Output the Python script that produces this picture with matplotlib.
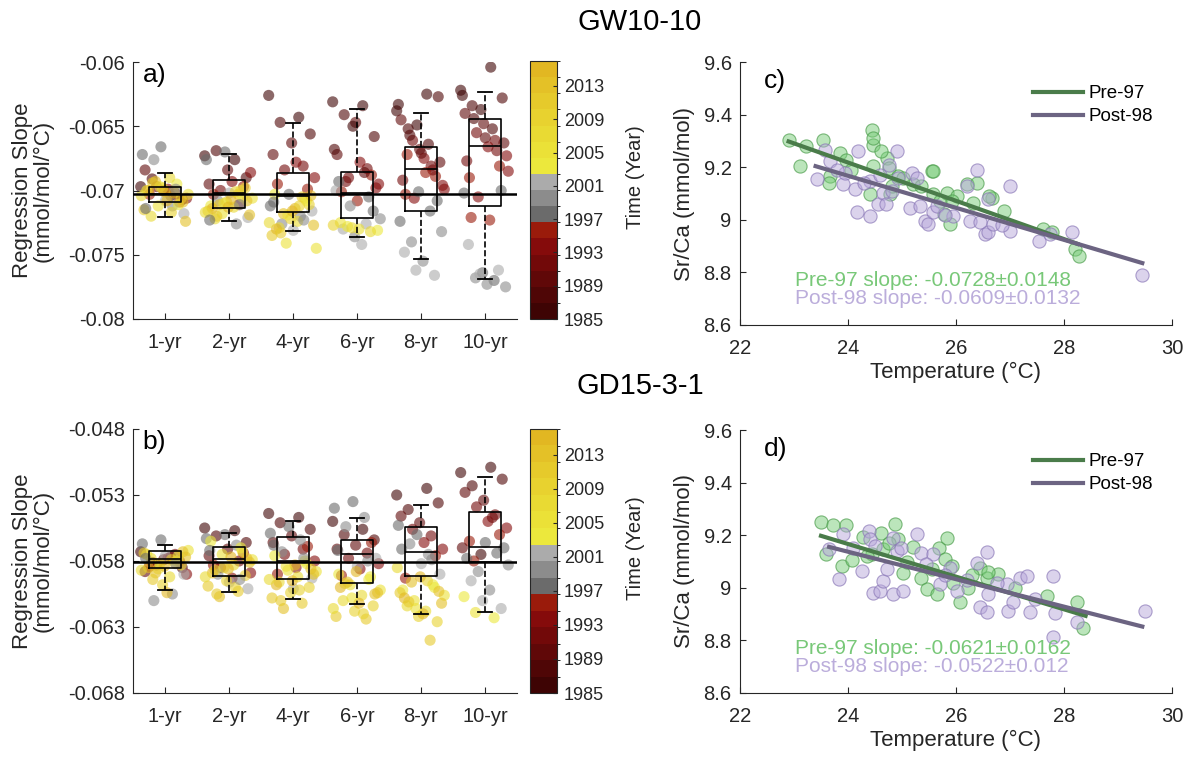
import numpy as np
import matplotlib
matplotlib.use("Agg")
import matplotlib.pyplot as plt
from matplotlib.colors import ListedColormap, BoundaryNorm
from matplotlib.cm import ScalarMappable

plt.rcParams['font.family'] = ['Liberation Sans', 'DejaVu Sans']

# ---------------- data ----------------
windows = ['1-yr', '2-yr', '4-yr', '6-yr', '8-yr', '10-yr']

# year of each window (colour)
YEARS_LONG = [1985, 1986, 1987, 1988, 1989, 1990, 1991, 1992, 1993, 1994, 1995, 1996,
              1997, 1998, 1999, 2000, 2001, 2002,
              2003, 2004, 2005, 2006, 2007, 2008, 2009, 2010, 2011, 2012, 2013, 2014, 2015, 2016,
              2003, 2005, 2007, 2009, 2011, 2013, 2015, 1998, 2000]
YEARS_6YR = [1985, 1986, 1987, 1988, 1989, 1990, 1991, 1992, 1993, 1994, 1995, 1996,
             1985.5, 1987.5, 1989.5, 1991.5, 1993.5, 1995.5,
             1997, 1998, 1999, 2000, 2001, 2002, 1997.5, 1999.5, 2001.5, 2002.3,
             2003, 2004, 2005, 2006, 2007, 2008, 2009]
YEARS_8YR = [1985, 1986, 1987, 1988, 1989, 1990, 1991, 1992, 1993, 1994, 1995, 1996,
             1985.5, 1986.5, 1987.5, 1988.5, 1989.5, 1990.5, 1991.5, 1992.5, 1993.5, 1994.5, 1995.5, 1996.5,
             1997, 1997.5, 1998, 1998.5, 1999, 1999.5, 2000, 2000.5, 2001, 2001.5]
YEARS_B10 = [1985, 1986, 1987, 1988, 1989, 1990, 1991, 1992, 1993, 1994, 1995, 1996,
             1986.5, 1989.5, 1992.5, 1995.5,
             1997, 1997.5, 1998, 1998.5, 1999, 1999.5, 2000, 2000.5, 2001, 2001.5,
             2003, 2004, 2005]

# GW10-10 regression slopes per window length
a_1yr = [-0.0697, -0.0704, -0.0691, -0.0707, -0.0700, -0.0684, -0.0702, -0.0697, -0.0706, -0.0699, -0.0703, -0.0709,
         -0.0666, -0.0672, -0.0712, -0.0676, -0.0718, -0.0708,
         -0.0700, -0.0695, -0.0712, -0.0703, -0.0690, -0.0720, -0.0706, -0.0698, -0.0715, -0.0702, -0.0693, -0.0724, -0.0708, -0.0700,
         -0.0711, -0.0697, -0.0704, -0.0717, -0.0694, -0.0709, -0.0701, -0.0714, -0.0699]
a_2yr = [-0.0673, -0.0676, -0.0669, -0.0690, -0.0684, -0.0695, -0.0711, -0.0700, -0.0686, -0.0693, -0.0703, -0.0697,
         -0.0670, -0.0676, -0.0726, -0.0708, -0.0721, -0.0702,
         -0.0712, -0.0700, -0.0718, -0.0706, -0.0713, -0.0722, -0.0698, -0.0709, -0.0716, -0.0703, -0.0711, -0.0719, -0.0707, -0.0714,
         -0.0705, -0.0710, -0.0717, -0.0701, -0.0720, -0.0708, -0.0713, -0.0723, -0.0711]
a_4yr = [-0.0626, -0.0643, -0.0647, -0.0656, -0.0663, -0.0672, -0.0681, -0.0684, -0.0690, -0.0678, -0.0695, -0.0699,
         -0.0703, -0.0712, -0.0720, -0.0726, -0.0716, -0.0731,
         -0.0703, -0.0706, -0.0741, -0.0745, -0.0724, -0.0729, -0.0711, -0.0722, -0.0735, -0.0705, -0.0718, -0.0727, -0.0714, -0.0730,
         -0.0708, -0.0719, -0.0725, -0.0712, -0.0733, -0.0704, -0.0716, -0.0709, -0.0723]
a_6yr = [-0.0631, -0.0634, -0.0641, -0.0658, -0.0647, -0.0672, -0.0683, -0.0690, -0.0695, -0.0678, -0.0701, -0.0688,
         -0.0650, -0.0668, -0.0686, -0.0693, -0.0698, -0.0708,
         -0.0693, -0.0705, -0.0712, -0.0722, -0.0742, -0.0730, -0.0716, -0.0736, -0.0700, -0.0726,
         -0.0728, -0.0731, -0.0730, -0.0725, -0.0732, -0.0729, -0.0727]
a_8yr = [-0.0638, -0.0625, -0.0652, -0.0627, -0.0668, -0.0645, -0.0681, -0.0661, -0.0696, -0.0675, -0.0703, -0.0689,
         -0.0649, -0.0633, -0.0664, -0.0657, -0.0678, -0.0671, -0.0692, -0.0684, -0.0706, -0.0699, -0.0686, -0.0672,
         -0.0708, -0.0701, -0.0724, -0.0716, -0.0740, -0.0732, -0.0755, -0.0748, -0.0766, -0.0762]
a_10yr = [-0.0622, -0.0604, -0.0634, -0.0628, -0.0648, -0.0640, -0.0661, -0.0655, -0.0673, -0.0666, -0.0690, -0.0681,
          -0.0637, -0.0626, -0.0652, -0.0644, -0.0663, -0.0659, -0.0677, -0.0669, -0.0705, -0.0685, -0.0723, -0.0721,
          -0.0700, -0.0764, -0.0702, -0.0770, -0.0768, -0.0775, -0.0773, -0.0742, -0.0762, -0.0765]

# GD15-3-1 regression slopes per window length
b_1yr = [-0.0573, -0.0577, -0.0581, -0.0585, -0.0579, -0.0588, -0.0575, -0.0583, -0.0590, -0.0578, -0.0584, -0.0580,
         -0.0564, -0.0567, -0.0605, -0.0610, -0.0590, -0.0576,
         -0.0575, -0.0580, -0.0586, -0.0572, -0.0592, -0.0578, -0.0583, -0.0598, -0.0574, -0.0581, -0.0589, -0.0577, -0.0604, -0.0585,
         -0.0576, -0.0582, -0.0587, -0.0579, -0.0594, -0.0573, -0.0584, -0.0578, -0.0582]
b_2yr = [-0.0555, -0.0557, -0.0561, -0.0566, -0.0571, -0.0576, -0.0580, -0.0585, -0.0589, -0.0593, -0.0583, -0.0574,
         -0.0560, -0.0563, -0.0568, -0.0590, -0.0601, -0.0596,
         -0.0565, -0.0570, -0.0575, -0.0579, -0.0583, -0.0587, -0.0591, -0.0595, -0.0599, -0.0603, -0.0607, -0.0581, -0.0577, -0.0589,
         -0.0573, -0.0585, -0.0592, -0.0600, -0.0605, -0.0578, -0.0586, -0.0572, -0.0594]
b_4yr = [-0.0544, -0.0547, -0.0551, -0.0556, -0.0561, -0.0566, -0.0571, -0.0575, -0.0580, -0.0585, -0.0590, -0.0569,
         -0.0554, -0.0559, -0.0564, -0.0573, -0.0593, -0.0601,
         -0.0576, -0.0580, -0.0584, -0.0588, -0.0592, -0.0596, -0.0600, -0.0604, -0.0608, -0.0612, -0.0616, -0.0590, -0.0583, -0.0598,
         -0.0582, -0.0587, -0.0594, -0.0602, -0.0610, -0.0586, -0.0595, -0.0568, -0.0578]
b_6yr = [-0.0550, -0.0556, -0.0560, -0.0564, -0.0568, -0.0571, -0.0574, -0.0578, -0.0582, -0.0586, -0.0591, -0.0566,
         -0.0535, -0.0540, -0.0547, -0.0554, -0.0578, -0.0584,
         -0.0590, -0.0594, -0.0598, -0.0602, -0.0606, -0.0610, -0.0614, -0.0618, -0.0622, -0.0624, -0.0596, -0.0604, -0.0612, -0.0600,
         -0.0592, -0.0608, -0.0616, -0.0620, -0.0597, -0.0605, -0.0588, -0.0572, -0.0580]
b_8yr = [-0.0530, -0.0525, -0.0541, -0.0536, -0.0551, -0.0546, -0.0561, -0.0556, -0.0571, -0.0566, -0.0593, -0.0576,
         -0.0560, -0.0553, -0.0575, -0.0567, -0.0590, -0.0582,
         -0.0602, -0.0598, -0.0610, -0.0606, -0.0618, -0.0614, -0.0626, -0.0622, -0.0604, -0.0640, -0.0596, -0.0612, -0.0620, -0.0608,
         -0.0600, -0.0616, -0.0585, -0.0595, -0.0611, -0.0603, -0.0592, -0.0571, -0.0579]
b_10yr = [-0.0513, -0.0509, -0.0523, -0.0518, -0.0534, -0.0528, -0.0545, -0.0539, -0.0555, -0.0550, -0.0565, -0.0560,
          -0.0575, -0.0570, -0.0547, -0.0580,
          -0.0570, -0.0566, -0.0578, -0.0574, -0.0588, -0.0583, -0.0602, -0.0595, -0.0616, -0.0610,
          -0.0607, -0.0623, -0.0619]

a_years = [YEARS_LONG, YEARS_LONG, YEARS_LONG, YEARS_6YR, YEARS_8YR, YEARS_8YR]
b_years = [YEARS_LONG, YEARS_LONG, YEARS_LONG, YEARS_LONG, YEARS_LONG, YEARS_B10]

# box statistics
a_hi = [-0.06866, -0.06716, -0.06477, -0.06366, -0.06399, -0.06233]
a_q3 = [-0.06970, -0.06918, -0.06866, -0.06859, -0.06659, -0.06444]
a_med = [-0.07027, -0.07022, -0.07040, -0.07017, -0.06833, -0.06651]
a_q1 = [-0.07087, -0.07139, -0.07165, -0.07214, -0.07157, -0.07121]
a_lo = [-0.07204, -0.07237, -0.07313, -0.07359, -0.07535, -0.07691]
a_ref = -0.0703

b_hi = [-0.05677, -0.05586, -0.05497, -0.05477, -0.05378, -0.05166]
b_q3 = [-0.05724, -0.05694, -0.05616, -0.05643, -0.05540, -0.05429]
b_med = [-0.05785, -0.05785, -0.05798, -0.05747, -0.05734, -0.05694]
b_q1 = [-0.05851, -0.05914, -0.05939, -0.05969, -0.05914, -0.05805]
b_lo = [-0.06020, -0.06033, -0.06090, -0.06128, -0.06204, -0.06184]
b_ref = -0.0581

# Sr/Ca vs temperature
c_pre_t = [22.90, 23.11, 23.22, 23.54, 23.67, 23.65, 23.85, 23.96, 24.41, 24.44, 24.46, 24.47, 24.47, 24.72,
           24.75, 24.78, 24.81, 24.93, 25.21, 25.55, 25.58, 25.58, 25.70, 25.77, 25.83, 25.89, 26.01, 26.20,
           26.32, 26.38, 26.66, 26.88, 27.62, 27.77, 28.20, 28.27, 24.05, 24.62, 25.02, 25.36, 25.92, 26.62]
c_pre_sr = [9.305, 9.204, 9.279, 9.305, 9.166, 9.141, 9.254, 9.229, 9.097, 9.342, 9.283, 9.311, 9.204, 9.235,
            9.197, 9.097, 9.128, 9.166, 9.135, 9.185, 9.185, 9.097, 9.072, 9.021, 9.103, 8.984, 9.091, 9.135,
            9.065, 9.141, 9.084, 9.034, 8.965, 8.952, 8.889, 8.864, 9.190, 9.260, 9.160, 9.130, 9.070, 9.090]
c_post_t = [23.42, 23.57, 23.67, 23.91, 23.94, 24.13, 24.16, 24.19, 24.41, 24.41, 24.56, 24.59, 24.65, 24.75,
            24.81, 24.90, 24.93, 25.15, 25.18, 25.33, 25.43, 25.49, 25.58, 25.64, 25.95, 26.20, 26.26, 26.38,
            26.54, 26.60, 26.60, 26.69, 27.00, 27.00, 27.53, 27.74, 28.14, 29.44, 23.80, 24.30, 25.28, 25.80,
            26.45, 26.85, 24.70]
c_post_sr = [9.154, 9.267, 9.223, 9.135, 9.179, 9.116, 9.028, 9.260, 9.015, 9.147, 9.059, 9.172, 9.103, 9.210,
             9.109, 9.260, 9.160, 9.046, 9.179, 9.053, 8.996, 8.984, 9.028, 9.053, 9.015, 9.128, 8.996, 9.191,
             8.946, 8.952, 9.078, 8.984, 9.128, 8.958, 8.921, 8.946, 8.952, 8.789, 9.190, 9.140, 9.160, 9.020,
             8.990, 8.980, 9.060]
d_pre_t = [23.50, 23.73, 23.96, 23.59, 23.88, 24.07, 24.28, 24.44, 24.62, 24.65, 24.87, 24.93, 25.02, 25.21,
           25.36, 25.46, 25.64, 25.69, 25.83, 25.80, 25.92, 26.07, 26.23, 26.44, 26.57, 26.78, 27.09, 27.68,
           28.24, 28.36, 24.35, 24.75, 25.55, 25.95, 26.30, 25.10, 26.60]
d_pre_sr = [9.250, 9.238, 9.238, 9.129, 9.083, 9.104, 9.192, 9.127, 9.209, 9.146, 9.243, 9.184, 9.058, 9.155,
            9.039, 8.995, 8.976, 9.152, 9.188, 9.110, 9.083, 8.945, 9.001, 9.077, 9.039, 9.052, 9.001, 8.970,
            8.945, 8.848, 9.120, 9.170, 9.070, 9.020, 9.050, 9.100, 9.060]
d_post_t = [23.65, 23.84, 23.91, 24.25, 24.38, 24.41, 24.46, 24.59, 24.65, 24.72, 24.83, 24.84, 24.90, 24.99,
            25.02, 25.27, 25.36, 25.58, 25.70, 25.89, 26.01, 26.38, 26.44, 26.57, 26.58, 26.60, 26.94, 26.97,
            27.06, 27.19, 27.31, 27.37, 27.46, 27.79, 27.83, 27.79, 28.24, 29.50, 24.10, 24.50, 25.45, 25.80,
            26.20, 26.75]
d_post_sr = [9.146, 9.033, 9.203, 9.062, 9.215, 9.184, 8.982, 8.989, 9.026, 9.071, 9.190, 8.978, 9.140, 9.152,
             8.989, 9.205, 9.133, 9.127, 9.014, 9.077, 8.989, 9.096, 8.926, 8.907, 9.137, 8.976, 9.014, 8.913,
             8.945, 9.039, 9.045, 8.907, 8.957, 9.045, 8.903, 8.812, 8.869, 8.913, 9.150, 9.160, 9.090, 9.050,
             9.030, 9.020]

# fitted lines: slope, intercept, t-range
c_fit = {'pre': (-0.0728, 10.965, 22.9, 28.25), 'post': (-0.0609, 10.629, 23.4, 29.45)}
d_fit = {'pre': (-0.0621, 10.657, 23.5, 28.4), 'post': (-0.0522, 10.390, 23.65, 29.45)}
c_txt = ['Pre-97 slope: -0.0728\u00b10.0148', 'Post-98 slope: -0.0609\u00b10.0132']
d_txt = ['Pre-97 slope: -0.0621\u00b10.0162', 'Post-98 slope: -0.0522\u00b10.012']

# ---------------- styling ----------------
band_colors = ['#3e0404', '#4f0606', '#600808', '#720909', '#850b0b', '#9a1b0b',
               '#6b6b6b', '#8c8c8c', '#ababab',
               '#ece83c', '#ebe137', '#e9da33', '#e8d22f', '#e6ca2b', '#e4c127', '#e2b722']
cmap = ListedColormap(band_colors)
norm = BoundaryNorm(np.linspace(1985, 2016, 17), cmap.N)

AX_C = '#262626'
TICK_FS = 14.5
LAB_FS = 16
W, H = 1187, 759
fig = plt.figure(figsize=(W / 100, H / 100), dpi=100)


def frac(x0, y0, x1, y1):
    return [x0 / W, 1 - y1 / H, (x1 - x0) / W, (y1 - y0) / H]


def style(ax):
    for s in ['top', 'right']:
        ax.spines[s].set_visible(False)
    for s in ['left', 'bottom']:
        ax.spines[s].set_color(AX_C)
        ax.spines[s].set_linewidth(0.8)
    ax.tick_params(direction='in', length=4, width=0.8, colors=AX_C, labelsize=TICK_FS)
    ax.tick_params(axis='x', pad=10)
    ax.tick_params(axis='y', pad=6)


def box_panel(rect, crect, groups, years, lo, q1, med, q3, hi, ref, ylim, yticks, letter):
    ax = fig.add_axes(frac(*rect))
    for k, (vals, yrs) in enumerate(zip(groups, years)):
        n = len(vals)
        jit = ((np.arange(n) * 0.618034) % 1 - 0.5) * 0.76
        ax.scatter(k + 1 + jit, vals, c=yrs, cmap=cmap, norm=norm, s=64, alpha=0.6,
                   edgecolors='none', zorder=1)
    stats = [dict(med=med[i], q1=q1[i], q3=q3[i], whislo=lo[i], whishi=hi[i], fliers=[])
             for i in range(len(med))]
    ax.bxp(stats, positions=np.arange(1, 7), widths=0.5, showfliers=False, capwidths=0.22,
           boxprops=dict(color='k', lw=1.2), whiskerprops=dict(color='k', ls='--', lw=1.2),
           capprops=dict(color='k', lw=1.3), medianprops=dict(color='k', lw=1.2), zorder=3)
    ax.axhline(ref, color='k', lw=1.8, zorder=4)
    ax.set_xlim(0.5, 6.5)
    ax.set_ylim(*ylim)
    ax.set_yticks(yticks)
    ax.set_yticklabels(['{:g}'.format(v) for v in yticks])
    ax.set_xticks(np.arange(1, 7))
    ax.set_xticklabels(windows)
    style(ax)
    ax.set_ylabel('Regression Slope\n(mmol/mol/\u00b0C)', fontsize=LAB_FS, color=AX_C,
                  labelpad=10, linespacing=1.0)
    ax.text(0.025, 0.995, letter, transform=ax.transAxes, fontsize=19, va='top', ha='left')

    cax = fig.add_axes(frac(*crect))
    cb = fig.colorbar(ScalarMappable(norm=norm, cmap=cmap), cax=cax,
                      ticks=[1985, 1989, 1993, 1997, 2001, 2005, 2009, 2013])
    cb.outline.set_edgecolor(AX_C)
    cb.outline.set_linewidth(0.8)
    cax.tick_params(direction='in', length=3, width=0.8, colors=AX_C, labelsize=13, pad=5)
    cb.set_label('Time (Year)', fontsize=14.5, color=AX_C)
    cax.yaxis.set_label_coords(3.55, 0.55)
    return ax


def sr_panel(rect, pre_t, pre_sr, post_t, post_sr, fit, txt, letter):
    ax = fig.add_axes(frac(*rect))
    ax.scatter(pre_t, pre_sr, s=90, facecolor=(0.47, 0.80, 0.47, 0.5),
               edgecolor=(0.30, 0.62, 0.30, 0.7), lw=0.8, zorder=2)
    ax.scatter(post_t, post_sr, s=90, facecolor=(0.72, 0.66, 0.86, 0.5),
               edgecolor=(0.55, 0.48, 0.72, 0.7), lw=0.8, zorder=2)
    for key, col, lab in [('pre', '#4a7c4a', 'Pre-97'), ('post', '#6c6482', 'Post-98')]:
        m, b, t0, t1 = fit[key]
        tt = np.array([t0, t1])
        ax.plot(tt, m * tt + b, color=col, lw=3, label=lab, zorder=3)
    ax.set_xlim(22, 30)
    ax.set_ylim(8.6, 9.6)
    ax.set_xticks([22, 24, 26, 28, 30])
    ax.set_yticks([8.6, 8.8, 9.0, 9.2, 9.4, 9.6])
    ax.set_yticklabels(['{:g}'.format(v) for v in [8.6, 8.8, 9.0, 9.2, 9.4, 9.6]])
    style(ax)
    ax.set_xlabel('Temperature (\u00b0C)', fontsize=LAB_FS, color=AX_C, labelpad=3)
    ax.set_ylabel('Sr/Ca (mmol/mol)', fontsize=LAB_FS, color=AX_C, labelpad=6)
    ax.text(0.055, 0.975, letter, transform=ax.transAxes, fontsize=19, va='top', ha='left')
    ax.legend(loc='upper left', bbox_to_anchor=(0.66, 0.94), borderaxespad=0,
              frameon=False, fontsize=13.5, handlelength=2.7, handletextpad=0.3,
              labelspacing=0.3)
    ax.text(0.127, 0.17, txt[0], transform=ax.transAxes, fontsize=15, color='#78c878', va='center')
    ax.text(0.127, 0.10, txt[1], transform=ax.transAxes, fontsize=15, color='#bbaddb', va='center')
    return ax


box_panel((133, 62, 517, 319), (530, 61, 557, 319),
          [a_1yr, a_2yr, a_4yr, a_6yr, a_8yr, a_10yr], a_years,
          a_lo, a_q1, a_med, a_q3, a_hi, a_ref, (-0.08, -0.06),
          [-0.08, -0.075, -0.07, -0.065, -0.06], 'a)')
box_panel((133, 429, 517, 693), (530, 429, 557, 693),
          [b_1yr, b_2yr, b_4yr, b_6yr, b_8yr, b_10yr], b_years,
          b_lo, b_q1, b_med, b_q3, b_hi, b_ref, (-0.068, -0.048),
          [-0.068, -0.063, -0.058, -0.053, -0.048], 'b)')
sr_panel((740, 62, 1172, 325), c_pre_t, c_pre_sr, c_post_t, c_post_sr, c_fit, c_txt, 'c)')
sr_panel((740, 430, 1172, 693), d_pre_t, d_pre_sr, d_post_t, d_post_sr, d_fit, d_txt, 'd)')

fig.text(640 / W, 1 - 22 / H, 'GW10-10', ha='center', va='center', fontsize=21)
fig.text(640 / W, 1 - 386 / H, 'GD15-3-1', ha='center', va='center', fontsize=21)

fig.savefig('out.png', dpi=100)
